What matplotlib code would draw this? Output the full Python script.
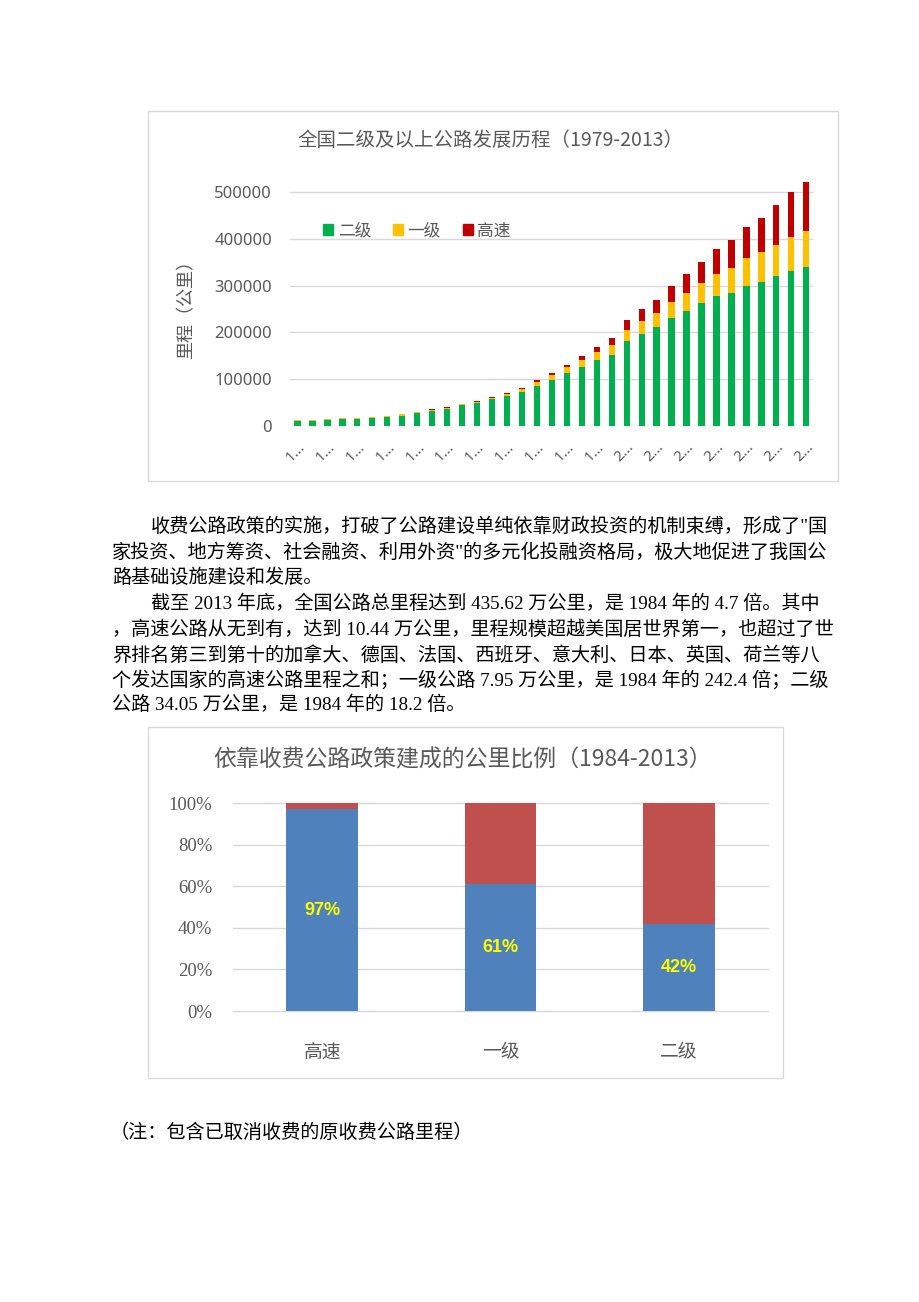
import matplotlib
matplotlib.use('Agg')
import matplotlib.pyplot as plt
from matplotlib.patches import Rectangle, Patch

# ---------------- data ----------------
years = list(range(1979, 2014))
second_class = [9300, 9300, 12100, 14300, 14300, 16400, 17900, 21400, 26400, 31400,
                35700, 43600, 48600, 57000, 62700, 72000, 85500, 96900, 113000, 124600,
                140300, 151700, 180900, 197300, 210800, 231500, 245000, 263500, 277000, 283500,
                300000, 308400, 320500, 332000, 341000]
first_class = [2800, 2100, 2900, 2100, 2100, 2900, 2800, 2900, 3000, 2200,
               2100, 2300, 2300, 3000, 4300, 5700, 7100, 12100, 13500, 15700,
               17800, 20700, 24900, 27100, 29900, 34200, 38500, 42500, 47800, 54800,
               59100, 64100, 67500, 72500, 77000]
expressway = [0, 0, 0, 0, 0, 0, 0, 0, 0, 1400,
              1500, 1200, 1200, 1000, 2800, 2800, 5000, 4300, 4300, 9300,
              11400, 15600, 20700, 24900, 29300, 34200, 42000, 45100, 54800, 59800,
              66000, 73400, 85600, 96200, 105500]
y_ticks1 = [0, 100000, 200000, 300000, 400000, 500000]
series_names = ['二级', '一级', '高速']

cats2 = ['高速', '一级', '二级']
toll_pct = [97, 61, 42]
other_pct = [3, 39, 58]
y_ticks2 = [0, 20, 40, 60, 80, 100]

paragraph_lines = [
    '收费公路政策的实施，打破了公路建设单纯依靠财政投资的机制束缚，形成了"国',
    '家投资、地方筹资、社会融资、利用外资"的多元化投融资格局，极大地促进了我国公',
    '路基础设施建设和发展。',
    '截至 2013 年底，全国公路总里程达到 435.62 万公里，是 1984 年的 4.7 倍。其中',
    '，高速公路从无到有，达到 10.44 万公里，里程规模超越美国居世界第一，也超过了世',
    '界排名第三到第十的加拿大、德国、法国、西班牙、意大利、日本、英国、荷兰等八',
    '个发达国家的高速公路里程之和；一级公路 7.95 万公里，是 1984 年的 242.4 倍；二级',
    '公路 34.05 万公里，是 1984 年的 18.2 倍。',
]
note_text = '（注：包含已取消收费的原收费公路里程）'

# ---------------- layout helpers ----------------
W, H = 920, 1302
fig = plt.figure(figsize=(W / 100, H / 100), dpi=100)
fig.patch.set_facecolor('white')

def fx(x):
    return x / W

def fy(y):
    return 1 - y / H

CJK = ['Noto Sans CJK SC', 'DejaVu Sans']
NUM = ['Noto Sans', 'Noto Sans CJK SC']
SERIF = ['Liberation Serif', 'Noto Sans CJK SC']
GRAY = '#595959'
GRID = '#D9D9D9'

# chart frames
for (x0, y0, x1, y1) in [(148, 111, 838, 481), (148, 727, 783, 1078)]:
    fig.patches.append(Rectangle((fx(x0), fy(y1)), fx(x1) - fx(x0), fy(y0) - fy(y1),
                                 transform=fig.transFigure, fill=False,
                                 edgecolor=GRID, linewidth=1.0))

# ---------------- chart 1 ----------------
ymax1 = 560000
px_per_unit = 46.6 / 100000
top1 = 425.5 - ymax1 * px_per_unit
ax1 = fig.add_axes([fx(290), fy(425.5), fx(813) - fx(290), (425.5 - top1) / H])
x = list(range(len(years)))
c_green, c_yellow, c_red = '#00B050', '#FFC000', '#C00000'
bw = 0.42
ax1.bar(x, second_class, width=bw, color=c_green, zorder=3)
ax1.bar(x, first_class, width=bw, bottom=second_class, color=c_yellow, zorder=3)
b3 = [a + b for a, b in zip(second_class, first_class)]
ax1.bar(x, expressway, width=bw, bottom=b3, color=c_red, zorder=3)
ax1.set_xlim(-0.5, len(years) - 0.55)
ax1.set_ylim(0, ymax1)
ax1.set_yticks(y_ticks1)
ax1.set_yticklabels([str(v) for v in y_ticks1], family=NUM, fontsize=12, color=GRAY)
ax1.tick_params(axis='y', length=0, pad=13)
ax1.grid(axis='y', color=GRID, linewidth=1.0, zorder=0)
for s in ax1.spines.values():
    s.set_visible(False)
tick_pos = x[::2]
ax1.set_xticks(tick_pos)
ax1.set_xticklabels([str(years[i])[0] + '…' for i in tick_pos], rotation=45,
                    ha='right', va='top', rotation_mode='anchor',
                    family=NUM, fontsize=11, color=GRAY)
ax1.tick_params(axis='x', length=0, pad=10)

fig.text(fx(490), fy(141), '全国二级及以上公路发展历程（1979-2013）', family=CJK,
         fontsize=14, color=GRAY, ha='center', va='center')
fig.text(fx(186), fy(305), '里程（公里）', family=CJK, fontsize=13, color=GRAY,
         rotation=90, ha='center', va='center')
handles = [Patch(color=c_green), Patch(color=c_yellow), Patch(color=c_red)]
leg = fig.legend(handles, series_names, loc='center left',
                 bbox_to_anchor=(fx(316), fy(231)), ncol=3, frameon=False,
                 prop={'family': CJK, 'size': 12}, handlelength=0.6, handleheight=0.6,
                 handletextpad=0.3, columnspacing=1.3, borderaxespad=0)
for t in leg.get_texts():
    t.set_color(GRAY)

# ---------------- paragraphs ----------------
line_y = [527, 553, 578, 604, 630, 655, 680, 705]
line_x = [151, 112, 112, 151, 112, 112, 112, 112]
for s, xx, yy in zip(paragraph_lines, line_x, line_y):
    fig.text(fx(xx), fy(yy), s, family=SERIF, fontsize=13.8, color='black',
             ha='left', va='center')
fig.text(fx(110), fy(1133), note_text, family=SERIF, fontsize=13.8, color='black',
         ha='left', va='center')

# ---------------- chart 2 ----------------
ax2 = fig.add_axes([fx(233), fy(1011), fx(768) - fx(233), (1011 - 803) / H])
x2 = list(range(len(cats2)))
ax2.bar(x2, toll_pct, width=0.4, color='#4F81BD', zorder=3)
ax2.bar(x2, other_pct, width=0.4, bottom=toll_pct, color='#C0504D', zorder=3)
ax2.set_xlim(-0.5, 2.5)
ax2.set_ylim(0, 100)
ax2.set_yticks(y_ticks2)
ax2.set_yticklabels([f'{v}%' for v in y_ticks2], family=SERIF, fontsize=13.5, color=GRAY)
ax2.tick_params(axis='y', length=0, pad=15)
ax2.set_xticks(x2)
ax2.set_xticklabels(cats2, family=CJK, fontsize=13.5, color=GRAY)
ax2.tick_params(axis='x', length=0, pad=22)
for v in y_ticks2:
    ax2.axhline(v, color=GRID, linewidth=1.0, zorder=0, clip_on=False)
for s in ax2.spines.values():
    s.set_visible(False)
for xi, v in zip(x2, toll_pct):
    ax2.text(xi, v / 2, f'{v}%', ha='center', va='center', color='#FFFF00',
             fontsize=13, fontweight='bold', family=['Liberation Sans'], zorder=4)
fig.text(fx(463), fy(760), '依靠收费公路政策建成的公里比例（1984-2013）', family=CJK,
         fontsize=16.5, color=GRAY, ha='center', va='center')

fig.savefig('out.png', dpi=100, facecolor='white')
